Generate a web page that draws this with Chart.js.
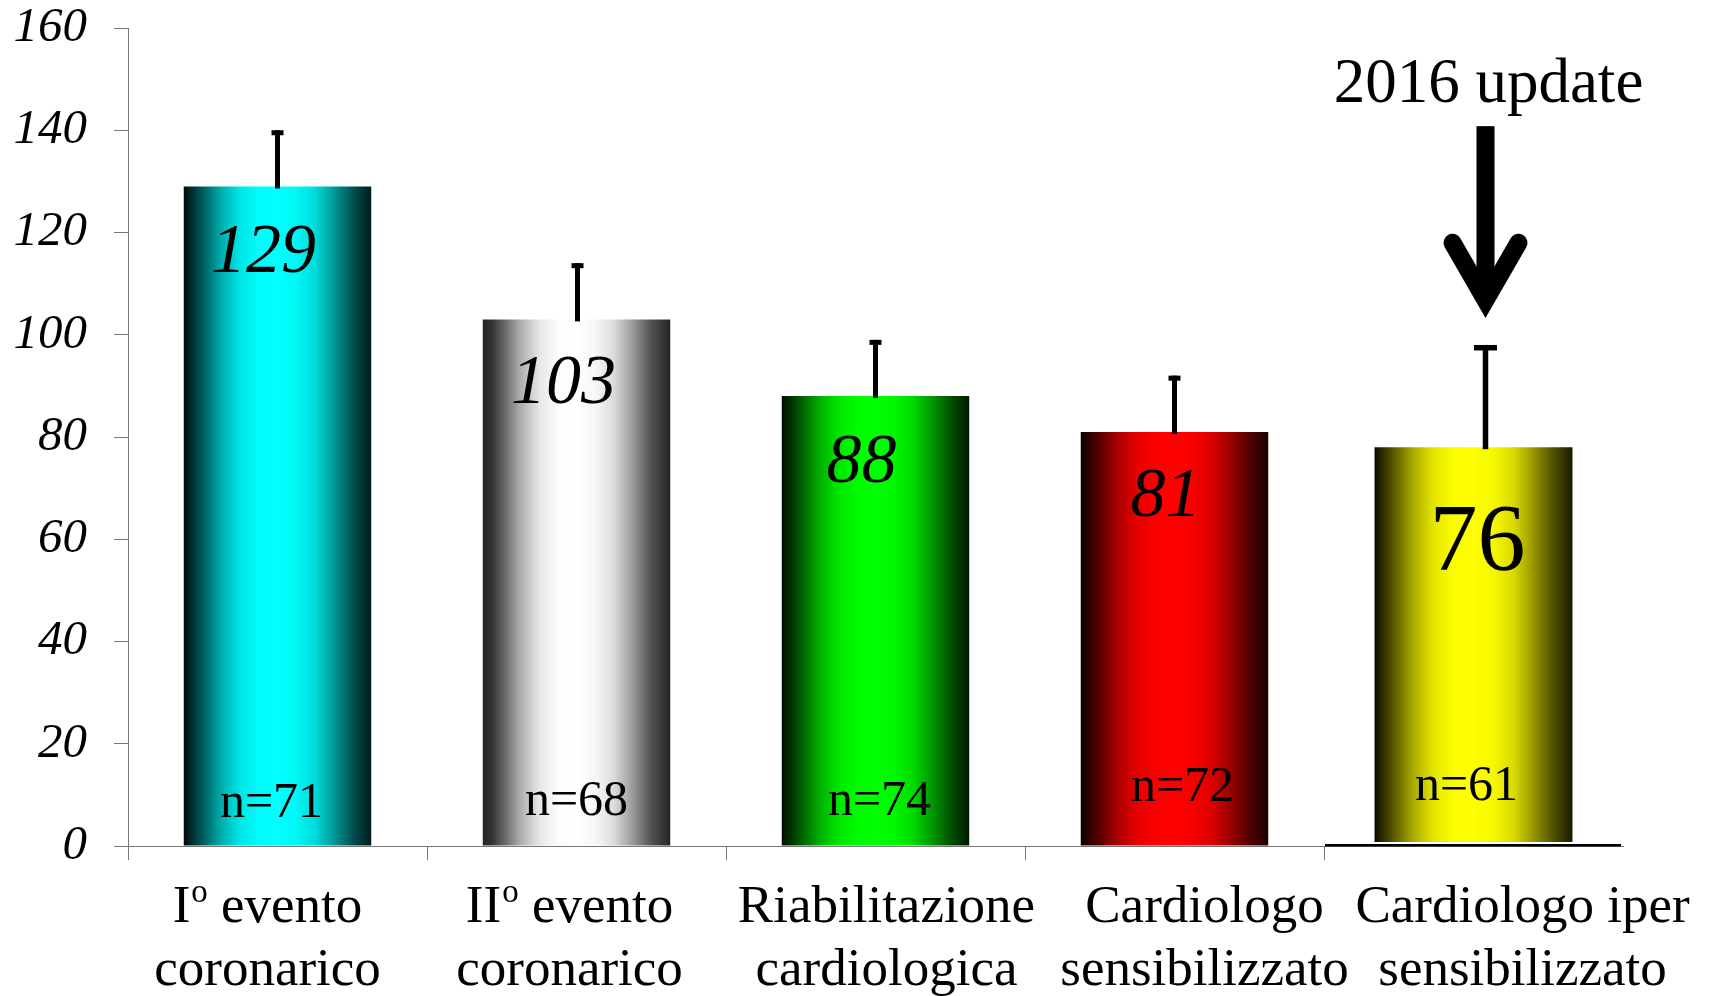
<!DOCTYPE html>
<html>
<head>
<meta charset="utf-8">
<script src="https://cdn.jsdelivr.net/npm/chart.js@4.4.1/dist/chart.umd.min.js"></script>
<style>
html,body{margin:0;padding:0;background:#ffffff;}
#wrap{width:1709px;height:996px;position:relative;}
</style>
</head>
<body>
<div id="wrap"><canvas id="c" width="1709" height="996"></canvas></div>
<script>
// ---------------- DATA ----------------
const categories = [
  ['Iº evento', 'coronarico'],
  ['IIº evento', 'coronarico'],
  ['Riabilitazione', 'cardiologica'],
  ['Cardiologo', 'sensibilizzato'],
  ['Cardiologo iper', 'sensibilizzato']
];
const meanLabels = ['129', '103', '88', '81', '76'];
const barTops = [129, 103, 88, 81, 78];
const barBases = [0, 0, 0, 0, 0.8];
const errorTops = [140, 114, 99, 92, 98];
const sampleSizes = ['n=71', 'n=68', 'n=74', 'n=72', 'n=61'];
const yTickValues = [0, 20, 40, 60, 80, 100, 120, 140, 160];
const annotationText = '2016 update';

// ---------------- STYLE ----------------
const SERIF = "'Liberation Serif', 'Times New Roman', serif";
const barColors = [[0,255,255],[255,255,255],[0,255,0],[255,0,0],[255,255,0]];
const edgeFloor = [0.04, 0.14, 0.06, 0.03, 0.04];
const shadeStops = [[0,0.03],[0.05,0.2],[0.12,0.42],[0.2,0.68],[0.3,0.9],[0.4,0.99],[0.5,1],[0.6,0.97],[0.7,0.86],[0.8,0.6],[0.9,0.32],[1,0.1]];
const mainBarPct = 0.627;
const lastBarPct = 0.662;
const style = {
  valueItalic: [true, true, true, true, false],
  valueSize: [70, 70, 70, 70, 96],
  valueDy: [86, 84, 86, 84, 123],
  valueDx: [-14, -13, -14, -9, 4],
  nDx: [-6, 0, 4, 8, -7],
  nRise: [29, 31, 31, 45, 46],
  catDx: [-10, -7, 11, 30, 49],
  errDx: [0, 1, 0, 0, 12],
  capW: [12, 12, 12, 12, 23],
  errW: [5, 5, 5, 5, 5.5]
};

function barFill(ctx, pct) {
  const chart = ctx.chart;
  const xs = chart.scales && chart.scales.x;
  const i = ctx.dataIndex;
  const rgb = barColors[i] || [128,128,128];
  if (!chart.chartArea || !xs || !xs.width) return 'rgb(' + rgb.join(',') + ')';
  const cx = xs.getPixelForValue(i);
  const w = xs.width / categories.length * pct;
  const g = chart.ctx.createLinearGradient(cx - w / 2, 0, cx + w / 2, 0);
  shadeStops.forEach(([p, m]) => {
    const mm = Math.max(m, edgeFloor[i]);
    g.addColorStop(p, 'rgb(' + rgb.map(c => Math.round(c * mm)).join(',') + ')');
  });
  return g;
}

const mainData = barTops.map((v, i) => i < 4 ? [barBases[i], v] : null);
const lastData = barTops.map((v, i) => i === 4 ? [barBases[i], v] : null);

function drawSuperLabel(c, text, cx, baseline, size) {
  // renders "º" as a small raised "o"
  const parts = text.split('º');
  const supSize = Math.round(size * 0.62);
  const widths = [];
  let total = 0;
  parts.forEach((p, k) => {
    c.font = size + 'px ' + SERIF;
    const w = c.measureText(p).width;
    widths.push(w); total += w;
    if (k < parts.length - 1) {
      c.font = supSize + 'px ' + SERIF;
      total += c.measureText('o').width + 1;
    }
  });
  let x = cx - total / 2;
  c.textAlign = 'left';
  parts.forEach((p, k) => {
    c.font = size + 'px ' + SERIF;
    c.fillText(p, x, baseline);
    x += widths[k];
    if (k < parts.length - 1) {
      c.font = supSize + 'px ' + SERIF;
      c.fillText('o', x + 1, baseline - size * 0.37);
      x += c.measureText('o').width + 1;
    }
  });
}

const overlayPlugin = {
  id: 'overlay',
  afterDatasetsDraw(chart) {
    const c = chart.ctx, xs = chart.scales.x, ys = chart.scales.y;
    c.save();
    c.fillStyle = '#000';
    errorTops.forEach((e, i) => {
      const x = xs.getPixelForValue(i) + style.errDx[i];
      const yb = ys.getPixelForValue(barTops[i]) + 2;
      const yt = ys.getPixelForValue(e);
      const lw = style.errW[i];
      c.fillRect(x - lw / 2, yt, lw, yb - yt);
      c.fillRect(x - style.capW[i] / 2, yt, style.capW[i], lw);
    });
    const x0 = xs.getPixelForValue(3.5) + 1;
    c.fillRect(x0, ys.getPixelForValue(0) - 2, chart.chartArea.right - 2 - x0, 2.5);
    c.restore();
  },
  afterDraw(chart) {
    const c = chart.ctx, xs = chart.scales.x, ys = chart.scales.y;
    const y0 = ys.getPixelForValue(0);
    c.save();
    c.fillStyle = '#000';
    c.textBaseline = 'alphabetic';
    meanLabels.forEach((t, i) => {
      c.font = (style.valueItalic[i] ? 'italic ' : '') + style.valueSize[i] + 'px ' + SERIF;
      c.textAlign = 'center';
      c.fillText(t, xs.getPixelForValue(i) + style.valueDx[i], ys.getPixelForValue(barTops[i]) + style.valueDy[i]);
    });
    sampleSizes.forEach((t, i) => {
      c.font = '50px ' + SERIF;
      c.textAlign = 'center';
      c.fillText(t, xs.getPixelForValue(i) + style.nDx[i], y0 - style.nRise[i]);
    });
    categories.forEach((lines, i) => {
      const cx = xs.getPixelForValue(i) + style.catDx[i];
      lines.forEach((ln, k) => {
        drawSuperLabel(c, ln, cx, y0 + 76 + k * 63, 53);
      });
    });
    // annotation arrow
    const ax = xs.getPixelForValue(4) + style.errDx[4];
    const yTop = ys.getPixelForValue(140.8);
    const yJoin = ys.getPixelForValue(106.8);
    const yArm = ys.getPixelForValue(118.0);
    c.fillRect(ax - 9, yTop, 18, yJoin - yTop - 6);
    c.strokeStyle = '#000';
    c.lineWidth = 18;
    c.lineCap = 'round';
    c.lineJoin = 'miter';
    c.miterLimit = 10;
    c.beginPath();
    c.moveTo(ax - 33, yArm);
    c.lineTo(ax, yJoin);
    c.lineTo(ax + 33, yArm);
    c.stroke();
    c.font = '63px ' + SERIF;
    c.textAlign = 'center';
    c.fillText(annotationText, ax + 3, ys.getPixelForValue(145.6));
    c.restore();
  }
};

new Chart(document.getElementById('c'), {
  type: 'bar',
  data: {
    labels: categories,
    datasets: [
      {
        data: mainData,
        grouped: false,
        barPercentage: mainBarPct,
        categoryPercentage: 1,
        borderWidth: 0,
        backgroundColor: ctx => barFill(ctx, mainBarPct)
      },
      {
        data: lastData,
        grouped: false,
        barPercentage: lastBarPct,
        categoryPercentage: 1,
        borderWidth: 0,
        backgroundColor: ctx => barFill(ctx, lastBarPct)
      }
    ]
  },
  options: {
    responsive: false,
    devicePixelRatio: 1,
    animation: false,
    layout: { padding: { top: 28, right: 86, left: 0, bottom: 0 } },
    plugins: { legend: { display: false }, tooltip: { enabled: false } },
    scales: {
      x: {
        type: 'category',
        offset: true,
        grid: {
          offset: true,
          drawOnChartArea: false,
          drawTicks: true,
          tickLength: 14,
          lineWidth: 1,
          color: ctx => ctx.type === 'tick' ? '#777777' : 'rgba(0,0,0,0)'
        },
        border: { display: true, color: '#777777', width: 1 },
        ticks: { display: false },
        afterFit: s => { s.height = 150; s.paddingLeft = 0; s.paddingRight = 0; }
      },
      y: {
        min: 0,
        max: 160,
        afterBuildTicks: s => { s.ticks = yTickValues.map(v => ({ value: v })); },
        grid: {
          drawOnChartArea: false,
          drawTicks: true,
          tickLength: 14,
          lineWidth: 1,
          color: '#777777'
        },
        border: { display: true, color: '#777777', width: 1 },
        ticks: {
          padding: 27,
          color: '#000000',
          font: { family: SERIF, size: 49, style: 'italic', lineHeight: 1 }
        },
        afterFit: s => { s.width = 128; s.paddingTop = 0; s.paddingBottom = 0; }
      }
    }
  },
  plugins: [overlayPlugin]
});
</script>
</body>
</html>
